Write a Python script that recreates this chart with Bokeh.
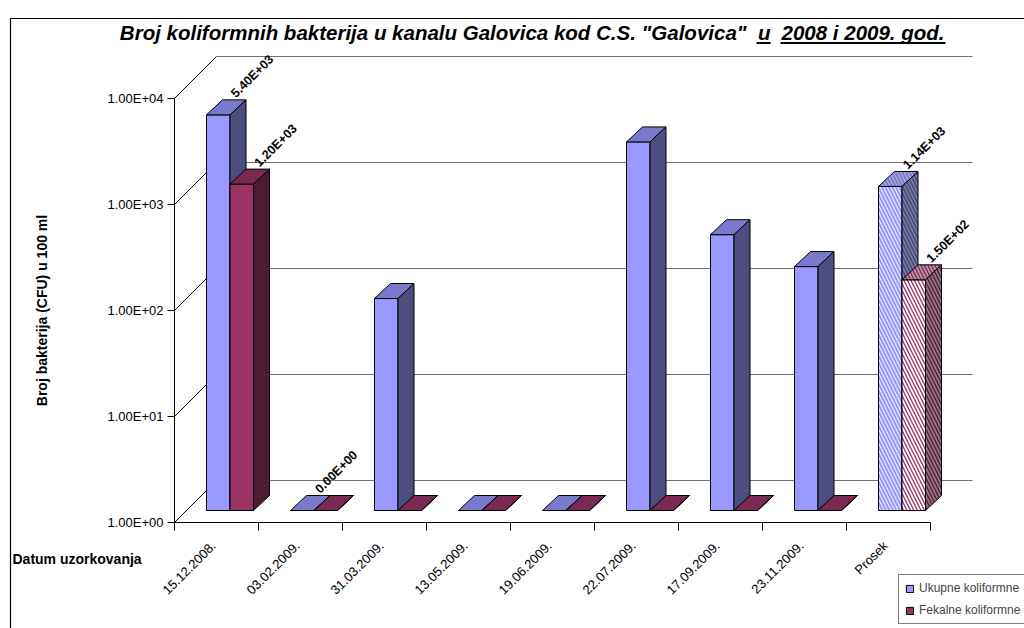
import math
from bokeh.plotting import figure
from bokeh.models import (Range1d, Label, LabelSet, ColumnDataSource, Legend, LegendItem)
from bokeh.core.properties import value
from bokeh.embed import file_html
from bokeh.resources import INLINE

# ---------------- data ----------------
categories = ["15.12.2008.", "03.02.2009.", "31.03.2009.", "13.05.2009.", "19.06.2009.",
              "22.07.2009.", "17.09.2009.", "23.11.2009.", "Prosek"]
ukupne = [5400, 0, 100, 0, 0, 3000, 400, 200, 1140]
fekalne = [1200, 0, 0, 0, 0, 0, 0, 0, 150]
ukupne_labeled = [True, True, False, False, False, False, False, False, True]
fekalne_labeled = [True, False, False, False, False, False, False, False, True]
hatched = [False, False, False, False, False, False, False, False, True]
y_ticks = [1, 10, 100, 1000, 10000]
y_tick_labels = ["1.00E+00", "1.00E+01", "1.00E+02", "1.00E+03", "1.00E+04"]
series_names = ["Ukupne koliformne", "Fekalne koliformne"]
title_parts = ['Broj koliformnih bakterija u kanalu Galovica kod C.S. "Galovica"', "u",
               "2008 i 2009. god."]
y_title = "Broj bakterija (CFU) u 100 ml"
x_title = "Datum uzorkovanja"

# ---------------- styles / geometry (pixels) ----------------
FONT = "Liberation Sans"
W, H = 1024, 628          # canvas size
X0 = 174.0                # canvas x of the value axis
Y1 = 522.0                # canvas y (from top) of the category axis
PX_X = 84.0               # pixels per category
PX_DEC = 106.0            # pixels per decade
WALL = 42.0               # 3D wall depth
FRONT = 12.0              # bar front-plane offset
BAR_DX, BAR_DY = 16.0, 15.0
BAR_W = 23.5

blue = dict(front="#9999FF", top="#7A7ACC", side="#4D4D80")
red = dict(front="#993366", top="#7A2952", side="#4D1A33")

n = len(categories)


def dx(px):
    return px / PX_X


def fy(px):
    return 10 ** (px / PX_DEC)


def cx(c):      # canvas x -> data x (layout only)
    return (c - X0) / PX_X


def cy(r):      # canvas y (from top) -> data y (layout only)
    return 10 ** ((Y1 - r) / PX_DEC)


p = figure(width=W, height=H, x_range=Range1d(cx(0), cx(W)), y_range=Range1d(cy(H), cy(0)),
           y_axis_type="log", x_axis_location=None, y_axis_location=None,
           output_backend="svg", toolbar_location=None, title=None,
           min_border_left=0, min_border_right=0, min_border_top=0, min_border_bottom=0)
p.outline_line_color = None
p.grid.visible = False
p.background_fill_color = "white"
p.border_fill_color = "white"

# chart-area border (top and left edges)
p.segment(x0=[cx(10), cx(10)], y0=[cy(18), cy(18)], x1=[cx(10), cx(W)], y1=[cy(H), cy(18)],
          line_color="black", line_width=1.2)

# ---------------- walls ----------------
wx = dx(WALL)
wf = fy(WALL)
nt = len(y_ticks)
p.segment(x0=[0] * nt, y0=y_ticks, x1=[wx] * nt, y1=[t * wf for t in y_ticks],
          line_color="black", line_width=1)
p.segment(x0=[wx] * nt, y0=[t * wf for t in y_ticks], x1=[n + wx] * nt,
          y1=[t * wf for t in y_ticks], line_color="#707070", line_width=1.2)

# ---------------- axes (lines, ticks) ----------------
p.segment(x0=[0], y0=[y_ticks[0]], x1=[0], y1=[y_ticks[-1]], line_color="black", line_width=1)
p.segment(x0=[dx(-7)] * nt, y0=y_ticks, x1=[0] * nt, y1=y_ticks, line_color="black", line_width=1)
p.segment(x0=[0], y0=[y_ticks[0]], x1=[n], y1=[y_ticks[0]], line_color="black", line_width=1)
xt = list(range(n + 1))
p.segment(x0=xt, y0=[y_ticks[0]] * len(xt), x1=xt, y1=[y_ticks[0] / fy(8)] * len(xt),
          line_color="black", line_width=1)

# ---------------- bars ----------------
bw = dx(BAR_W)
bdx = dx(BAR_DX)
bfy = fy(BAR_DY)
f0 = fy(FRONT)


def bar_sources(values, shift):
    L, R, B, T = [], [], [], []
    txs, tys, sxs, sys_ = [], [], [], []
    hp = []
    for i, v in enumerate(values):
        l = i + 0.5 + shift + dx(FRONT + 1.5)
        r = l + bw
        b = y_ticks[0] * f0
        t = max(v, y_ticks[0]) * f0
        L.append(l); R.append(r); B.append(b); T.append(t)
        txs.append([l, r, r + bdx, l + bdx]); tys.append([t, t, t * bfy, t * bfy])
        sxs.append([r, r + bdx, r + bdx, r]); sys_.append([b, b * bfy, t * bfy, t])
        hp.append("\\" if hatched[i] else " ")
    front = ColumnDataSource(dict(left=L, right=R, bottom=B, top=T, hp=hp))
    topf = ColumnDataSource(dict(xs=txs, ys=tys, hp=hp))
    side = ColumnDataSource(dict(xs=sxs, ys=sys_, hp=hp))
    return front, topf, side, L, T


def draw(values, shift, col, hatch_w):
    front, topf, side, L, T = bar_sources(values, shift)
    r = p.quad(left="left", right="right", bottom="bottom", top="top", source=front,
               fill_color=col["front"], line_color="black", line_width=1,
               hatch_pattern="hp", hatch_color="white", hatch_scale=7, hatch_weight=hatch_w)
    p.patches("xs", "ys", source=topf, fill_color=col["top"], line_color="black",
              line_width=1, hatch_pattern="hp", hatch_color="white", hatch_alpha=0.5,
              hatch_scale=7, hatch_weight=hatch_w)
    p.patches("xs", "ys", source=side, fill_color=col["side"], line_color="black",
              line_width=1, hatch_pattern="hp", hatch_color="white", hatch_alpha=0.4,
              hatch_scale=7, hatch_weight=hatch_w)
    return r, L, T


r_blue, Lb, Tb = draw(ukupne, -bw, blue, 1.0)
r_red, Lr, Tr = draw(fekalne, 0.0, red, 1.8)

# ---------------- data labels ----------------
lx, ly, lt = [], [], []
for vals, flags, Ls, Ts in ((ukupne, ukupne_labeled, Lb, Tb), (fekalne, fekalne_labeled, Lr, Tr)):
    for i, v in enumerate(vals):
        if flags[i]:
            lx.append(Ls[i] + bw / 2 + bdx / 2)
            ly.append(Ts[i] * math.sqrt(bfy))
            lt.append("%.2E" % v)
p.add_layout(LabelSet(x="x", y="y", text="t", source=ColumnDataSource(dict(x=lx, y=ly, t=lt)),
                      angle=math.pi / 4, x_offset=12, y_offset=7, text_align="left",
                      text_baseline="bottom", text_font=value(FONT), text_font_style="bold",
                      text_font_size="12.5px", text_color="black"))

# ---------------- tick labels ----------------
p.add_layout(LabelSet(x="x", y="y", text="t",
                      source=ColumnDataSource(dict(x=[0] * nt, y=y_ticks, t=y_tick_labels)),
                      x_offset=-11, y_offset=0, text_align="right", text_baseline="middle",
                      text_font=value(FONT), text_font_size="13px", text_color="black"))
p.add_layout(LabelSet(x="x", y="y", text="t",
                      source=ColumnDataSource(dict(x=[i + 0.5 for i in range(n)],
                                                   y=[y_ticks[0]] * n, t=categories)),
                      angle=math.pi / 4, x_offset=-3, y_offset=-21, text_align="right",
                      text_baseline="middle", text_font=value(FONT), text_font_size="13px",
                      text_color="black"))

# ---------------- texts ----------------
TITLE_SIZE = "20.5px"
title_right = [746, 770, 944]          # right edges of the three title pieces
for txt, xr in zip(title_parts, title_right):
    p.add_layout(Label(x=cx(xr), y=cy(32), text=txt, text_align="right",
                       text_baseline="middle", text_font=FONT,
                       text_font_style="bold italic", text_font_size=TITLE_SIZE,
                       text_color="black"))
# underlines of "u" and "2008 i 2009. god."
p.segment(x0=[cx(756), cx(780)], y0=[cy(42.5), cy(42.5)], x1=[cx(770), cx(945)],
          y1=[cy(42.5), cy(42.5)], line_color="black", line_width=1.8)

p.add_layout(Label(x=0, y=y_ticks[2], x_offset=-133, y_offset=0, angle=math.pi / 2, text=y_title,
                   text_align="center", text_baseline="middle", text_font=FONT,
                   text_font_style="bold", text_font_size="14px", text_color="black"))
p.add_layout(Label(x=cx(12), y=cy(558), text=x_title,
                   text_align="left", text_baseline="middle", text_font=FONT,
                   text_font_style="bold", text_font_size="14px", text_color="black"))

# ---------------- legend ----------------
legend = Legend(items=[LegendItem(label=series_names[0], renderers=[r_blue]),
                       LegendItem(label=series_names[1], renderers=[r_red])],
                location=(898, 4), orientation="vertical",
                padding=6, spacing=8, margin=0, glyph_width=9, glyph_height=9,
                label_height=14, label_standoff=5,
                label_text_font=FONT, label_text_font_size="12px",
                border_line_color="black", border_line_width=1,
                background_fill_color="white", background_fill_alpha=1)
p.add_layout(legend, "center")

open("out.html", "w").write(file_html(p, INLINE))
